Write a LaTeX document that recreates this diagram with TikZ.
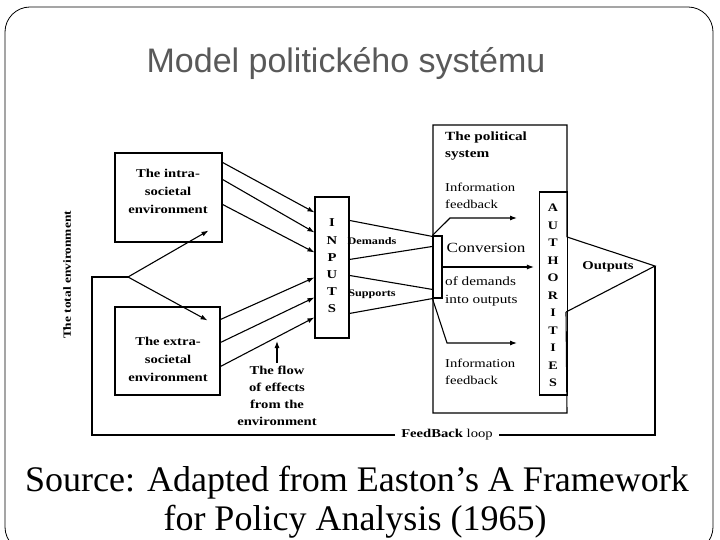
\documentclass[tikz,border=0pt]{standalone}
\usepackage{fontspec}
\setmainfont{Liberation Serif}
\newfontfamily\titlefont{Liberation Sans}
\newfontfamily\scanfont[FakeStretch=1.22]{Liberation Serif}
\usetikzlibrary{arrows.meta,calc}
\definecolor{titlegray}{RGB}{89,89,89}
\begin{document}
\begin{tikzpicture}[x=1pt,y=-1pt,
  box/.style={draw,line width=1.1pt,inner sep=0pt},
  lblb/.style={font=\scanfont\bfseries\fontsize{12}{18}\selectfont,align=center,inner sep=0pt},
  lblr/.style={font=\scanfont\fontsize{12}{17}\selectfont,align=left,inner sep=0pt},
  conn/.style={line width=1.1pt},
  arr/.style={conn,-{Latex[length=7pt,width=5pt]}},
]
\useasboundingbox (0,0) rectangle (720,540);
\begin{scope}
\clip (0,0) rectangle (720,540);
\draw[line width=0.8pt,rounded corners=25pt] (5,7) rectangle (713,552);
\end{scope}

% title and source
\node[font=\titlefont\fontsize{34}{40}\selectfont,text=titlegray,anchor=base] (title) at (346,73) {Model politického systému};
\node[font=\fontsize{36}{38}\selectfont,anchor=base] (src1) at (357,491) {Source: Adapted from Easton’s A Framework};
\node[font=\fontsize{36}{38}\selectfont,anchor=base] (src2) at (355,530) {for Policy Analysis (1965)};

% environment boxes
\node[box,minimum width=107pt,minimum height=89pt] (intra) at (168.5,197.5) {};
\node[lblb] (intratext) at (168,191) {The intra-\\societal\\environment};
\node[box,minimum width=105pt,minimum height=88pt] (extra) at (167.5,351) {};
\node[lblb] (extratext) at (168,359) {The extra-\\societal\\environment};
\node[lblb,rotate=90,font=\scanfont\bfseries\fontsize{11}{13}\selectfont] (total) at (67,275) {The total environment};

% inputs
\node[box,minimum width=34pt,minimum height=141pt] (inputs) at (332,267.5) {};
\node[lblb,font=\scanfont\bfseries\fontsize{12}{17.2}\selectfont] (inputstext) at (332,266) {I\\N\\P\\U\\T\\S};

% arrows into inputs
\draw[arr] ([yshift=-10pt]intra.north east) -- ([yshift=-16pt]inputs.north west);
\draw[arr] ([yshift=-27pt]intra.north east) -- ([yshift=-36pt]inputs.north west);
\draw[arr] ([yshift=-52pt]intra.north east) -- ([yshift=-56pt]inputs.north west);
\draw[arr] ([yshift=-13pt]extra.north east) -- ([yshift=-81pt]inputs.north west);
\draw[arr] ([yshift=-36pt]extra.north east) -- ([yshift=-101pt]inputs.north west);
\draw[arr] ([yshift=-60pt]extra.north east) -- ([yshift=-121pt]inputs.north west);

% flow of effects
\node[lblb,font=\scanfont\bfseries\fontsize{12}{17}\selectfont] (flow) at (277,395.5) {The flow\\of effects\\from the\\environment};
\coordinate (flowtip) at (277,341);
\draw[arr,shorten <=3pt] (flow.north) -- (flowtip);

% political system
\node[box,minimum width=9pt,minimum height=62pt] (conv) at (437.5,267) {};
\node[box,minimum width=28pt,minimum height=203pt] (auth) at (553.5,293.5) {};
\node[lblb,font=\scanfont\bfseries\fontsize{11.5}{17.5}\selectfont] (authtext) at (553,295.5) {A\\U\\T\\H\\O\\R\\I\\T\\I\\E\\S};
\coordinate (oup) at (567,237);
\coordinate (olow) at (566,312);
\coordinate (tip) at (655,266);
\draw[conn] (oup) |- (433,125) |- (567,413) -- (olow);
\draw[conn] (oup) -- (tip) -- (olow);
\node[lblb,font=\scanfont\bfseries\fontsize{12}{14}\selectfont] (outputs) at (608,267) {Outputs};

\node[lblb,anchor=west,align=left,font=\scanfont\bfseries\fontsize{12.5}{17}\selectfont] (pstext) at (445,146.5) {The political\\system};
\node[lblr,anchor=west] (info1) at (445,195.5) {Information\\feedback};
\node[lblr,font=\scanfont\fontsize{14}{16}\selectfont] (convtext) at (486,248) {Conversion};
\node[lblr,anchor=west,font=\scanfont\fontsize{12.5}{18}\selectfont] (demout) at (445,291) {of demands\\into outputs};
\node[lblr,anchor=west] (info2) at (445,372) {Information\\feedback};

% demands and supports
\draw[conn] ([yshift=-24pt]inputs.north east) -- ([yshift=-1pt]conv.north west);
\draw[conn] ([yshift=-63pt]inputs.north east) -- ([yshift=-11pt]conv.north west);
\draw[conn] ([yshift=-79pt]inputs.north east) -- ([yshift=-54pt]conv.north west);
\draw[conn] ([yshift=-117pt]inputs.north east) -- (conv.south west);
\node[lblb,font=\scanfont\bfseries\fontsize{10}{12}\selectfont] (demands) at (372,241) {Demands};
\node[lblb,font=\scanfont\bfseries\fontsize{10}{12}\selectfont] (supports) at (372,294) {Supports};

% feedback arrows inside
\coordinate (fb1a) at (450,218);
\coordinate (fb1b) at (517,218);
\coordinate (fb2a) at (447,343);
\coordinate (fb2b) at (517,343);
\draw[arr] (conv.north west) -- (fb1a) -- (fb1b);
\draw[arr] (conv.south west) -- (fb2a) -- (fb2b);
\draw[arr,shorten >=5pt] (conv.east) -- (conv.east -| auth.west);

% feedback loop
\node[inner xsep=6pt,inner ysep=2pt,font=\scanfont\fontsize{12}{14}\selectfont] (fbl) at (447,435) {\textbf{FeedBack} loop};
\coordinate (lc) at (92,277);
\coordinate (j) at (128,277);
\draw[conn] (tip) |- (fbl.east);
\draw[conn] (fbl.west) -| (lc) -- (j);
\draw[arr] (j) -- ([xshift=-14pt,yshift=12pt]intra.south east);
\draw[arr] (j) -- ([xshift=-13pt,yshift=-14pt]extra.north east);
\end{tikzpicture}
\end{document}
